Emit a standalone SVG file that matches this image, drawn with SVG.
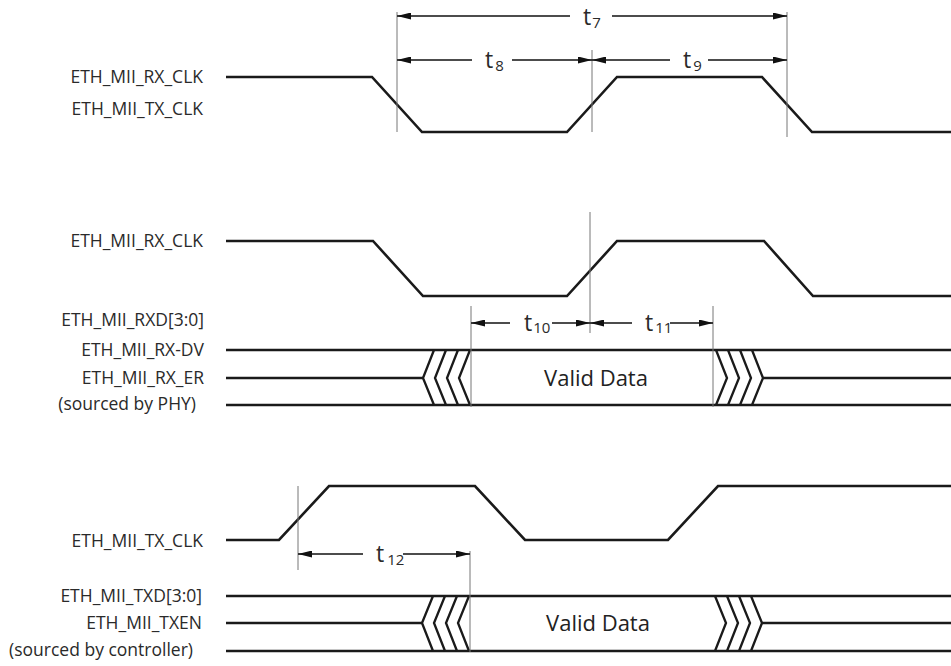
<svg xmlns="http://www.w3.org/2000/svg" width="951" height="666" viewBox="0 0 951 666">
<style>
.lbl{font-family:"Open Sans","Noto Sans","DejaVu Sans",sans-serif;font-size:17.5px;fill:#2a2a2a;text-anchor:end}
.t{font-family:"Open Sans","Noto Sans","DejaVu Sans",sans-serif;font-size:23px;fill:#2a2a2a}
.sub{font-size:15px}
.vd{font-family:"Open Sans","Noto Sans","DejaVu Sans",sans-serif;font-size:22px;fill:#222;text-anchor:middle}
.wave{fill:none;stroke:#1a1a1a;stroke-width:2.6;stroke-linejoin:miter}
.bus{fill:none;stroke:#1a1a1a;stroke-width:2.3}
.mark{stroke:#777;stroke-width:1;fill:none}
.arr{stroke:#111;stroke-width:1.6;fill:none}
</style>
<defs>
<marker id="ah" viewBox="0 0 14 7" markerWidth="14" markerHeight="7" refX="14" refY="3.5" orient="auto-start-reverse" markerUnits="userSpaceOnUse">
<path d="M0,0 L14,3.5 L0,7 z" fill="#111"/>
</marker>
</defs>
<rect width="951" height="666" fill="#fff"/>

<g id="clk-top">
<text class="lbl" x="203" y="83">ETH_MII_RX_CLK</text>
<text class="lbl" x="203" y="115">ETH_MII_TX_CLK</text>
<polyline class="wave" points="226,77 372,77 422,132 567,132 617,77 762,77 812,132 951,132"/>
</g>

<g id="clk-rx">
<text class="lbl" x="203" y="247">ETH_MII_RX_CLK</text>
<polyline class="wave" points="226,241 373,241 423,296 567,296 617,241 764,241 813,296 951,296"/>
</g>

<g id="rx-bus">
<text class="lbl" x="204" y="326">ETH_MII_RXD[3:0]</text>
<text class="lbl" x="204" y="356">ETH_MII_RX-DV</text>
<text class="lbl" x="204" y="384">ETH_MII_RX_ER</text>
<text class="lbl" x="196" y="410">(sourced by PHY)</text>
<line class="bus" x1="226" y1="350" x2="951" y2="350"/>
<line class="bus" x1="226" y1="405" x2="951" y2="405"/>
<line class="bus" x1="226" y1="378" x2="423" y2="378"/>
<line class="bus" x1="763" y1="378" x2="951" y2="378"/>
<polyline class="bus" points="434,350 423,378 434,405"/>
<polyline class="bus" points="446,350 435,378 446,405"/>
<polyline class="bus" points="458,350 447,378 458,405"/>
<polyline class="bus" points="470,350 459,378 470,405"/>
<polyline class="bus" points="716,350 727,378 716,405"/>
<polyline class="bus" points="728,350 739,378 728,405"/>
<polyline class="bus" points="740,350 751,378 740,405"/>
<polyline class="bus" points="752,350 763,378 752,405"/>
<text class="vd" x="596" y="386">Valid Data</text>
</g>

<g id="clk-tx">
<text class="lbl" x="203" y="547">ETH_MII_TX_CLK</text>
<polyline class="wave" points="226,540 279,540 329,486 475,486 525,540 668,540 718,486 951,486"/>
</g>

<g id="tx-bus">
<text class="lbl" x="202" y="602">ETH_MII_TXD[3:0]</text>
<text class="lbl" x="202" y="629">ETH_MII_TXEN</text>
<text class="lbl" x="193" y="656">(sourced by controller)</text>
<line class="bus" x1="226" y1="596" x2="951" y2="596"/>
<line class="bus" x1="226" y1="651" x2="951" y2="651"/>
<line class="bus" x1="226" y1="623" x2="422" y2="623"/>
<line class="bus" x1="762" y1="623" x2="951" y2="623"/>
<polyline class="bus" points="433,596 422,623 433,651"/>
<polyline class="bus" points="445,596 434,623 445,651"/>
<polyline class="bus" points="457,596 446,623 457,651"/>
<polyline class="bus" points="469,596 458,623 469,651"/>
<polyline class="bus" points="715,596 726,623 715,651"/>
<polyline class="bus" points="727,596 738,623 727,651"/>
<polyline class="bus" points="739,596 750,623 739,651"/>
<polyline class="bus" points="751,596 762,623 751,651"/>
<text class="vd" x="598" y="631">Valid Data</text>
</g>

<g id="connectors">
<line class="mark" x1="397" y1="12" x2="397" y2="132"/>
<line class="mark" x1="592" y1="50" x2="592" y2="132"/>
<line class="mark" x1="787" y1="12" x2="787" y2="137"/>
<line class="mark" x1="590" y1="212" x2="590" y2="333"/>
<line class="mark" x1="471" y1="306" x2="471" y2="407"/>
<line class="mark" x1="713" y1="306" x2="713" y2="407"/>
<line class="mark" x1="298" y1="486" x2="298" y2="570"/>
<line class="mark" x1="470" y1="551" x2="470" y2="652"/>

<line class="arr" x1="397" y1="16" x2="570" y2="16" marker-start="url(#ah)"/>
<line class="arr" x1="612" y1="16" x2="787" y2="16" marker-end="url(#ah)"/>
<line class="arr" x1="397" y1="60" x2="472" y2="60" marker-start="url(#ah)"/>
<line class="arr" x1="512" y1="60" x2="592" y2="60" marker-end="url(#ah)"/>
<line class="arr" x1="592" y1="60" x2="670" y2="60" marker-start="url(#ah)"/>
<line class="arr" x1="708" y1="60" x2="787" y2="60" marker-end="url(#ah)"/>
<line class="arr" x1="471" y1="323" x2="510" y2="323" marker-start="url(#ah)"/>
<line class="arr" x1="552" y1="323" x2="590" y2="323" marker-end="url(#ah)"/>
<line class="arr" x1="590" y1="323" x2="632" y2="323" marker-start="url(#ah)"/>
<line class="arr" x1="670" y1="323" x2="713" y2="323" marker-end="url(#ah)"/>
<line class="arr" x1="298" y1="554" x2="363" y2="554" marker-start="url(#ah)"/>
<line class="arr" x1="403" y1="554" x2="470" y2="554" marker-end="url(#ah)"/>

<text class="t" x="583" y="25">t<tspan class="sub" dx="1" dy="3">7</tspan></text>
<text class="t" x="485" y="68">t<tspan class="sub" dx="2" dy="3">8</tspan></text>
<text class="t" x="683" y="68">t<tspan class="sub" dx="2" dy="3">9</tspan></text>
<text class="t" x="524" y="331">t<tspan class="sub" dx="1" dy="2">10</tspan></text>
<text class="t" x="645" y="331">t<tspan class="sub" dx="2" dy="2">11</tspan></text>
<text class="t" x="376" y="562">t<tspan class="sub" dx="3" dy="3">12</tspan></text>
</g>
</svg>
